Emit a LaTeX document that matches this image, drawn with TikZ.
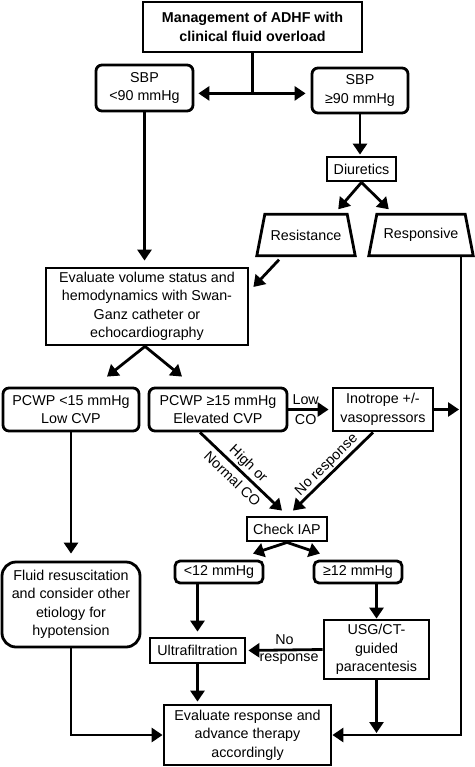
\documentclass[tikz,border=0pt]{standalone}
\usepackage{fontspec}
\setmainfont{Liberation Sans}
\usetikzlibrary{arrows.meta,calc}
\newcommand{\fsn}{\fontsize{14.3}{18.5}\selectfont}
\newcommand{\fsbold}{\fontsize{14.3}{18.5}\selectfont\bfseries}
\begin{document}
\begin{tikzpicture}[x=1pt,y=-1pt,
  box/.style={draw, line width=2.8pt, align=center, inner sep=0pt, font=\fsn},
  rbox/.style={box, rounded corners=6pt},
  trapbox/.style={align=center, inner sep=0pt, font=\fsn},
  arr/.style={line width=2.8pt, -{Triangle[width=14pt,length=11pt]}},
  dbl/.style={line width=2.8pt, {Triangle[width=14pt,length=11pt]}-{Triangle[width=14pt,length=11pt]}},
  ln/.style={line width=2.8pt},
  lab/.style={font=\fsn, inner sep=1pt}]
\useasboundingbox (0,0) rectangle (474,767);
% nodes
\node[box, font=\fsbold, minimum width=219, minimum height=50] (top) at (252.5,27) {Management of ADHF with\\clinical fluid overload};
\node[rbox, minimum width=97, minimum height=46] (sbplo) at (144.5,88) {SBP\\<90 mmHg};
\node[rbox, minimum width=96, minimum height=45] (sbphi) at (360,90.5) {SBP\\≥90 mmHg};
\node[box, minimum width=69, minimum height=24] (diur) at (361.5,169) {Diuretics};
\node[trapbox, minimum width=98, minimum height=41] (resist) at (306,235) {Resistance};
\node[trapbox, minimum width=104, minimum height=41] (respon) at (421,235) {Responsive};
\foreach \t in {resist,respon}
  \draw[ln, line join=miter] (\t.south west) -- (\t.south east) -- ($(\t.north east)+(-8,0)$) -- ($(\t.north west)+(8,0)$) -- cycle;
\node[box, minimum width=202, minimum height=77] (eval) at (147,306.5) {Evaluate volume status and\\hemodynamics with Swan-\\Ganz catheter or\\echocardiography};
\node[rbox, minimum width=136, minimum height=43] (pcwplo) at (71,409.5) {PCWP <15 mmHg\\Low CVP};
\node[rbox, minimum width=138, minimum height=43] (pcwphi) at (218,409.5) {PCWP ≥15 mmHg\\Elevated CVP};
\node[box, minimum width=100, minimum height=43] (inot) at (383,409.5) {Inotrope +/-\\vasopressors};
\node[box, minimum width=80, minimum height=24] (check) at (287,529) {Check IAP};
\node[rbox, rounded corners=5pt, minimum width=88, minimum height=22] (lt12) at (219,572) {<12 mmHg};
\node[rbox, rounded corners=5pt, minimum width=88, minimum height=22] (ge12) at (358,572) {≥12 mmHg};
\node[rbox, rounded corners=14pt, minimum width=138, minimum height=85] (fluid) at (71,604.5) {Fluid resuscitation\\and consider other\\etiology for\\hypotension};
\node[box, minimum width=95, minimum height=25] (ultra) at (197.5,650.5) {Ultrafiltration};
\node[box, minimum width=105, minimum height=59] (usg) at (376.5,649.5) {USG/CT-\\guided\\paracentesis};
\node[box, minimum width=167, minimum height=60] (evresp) at (247.5,735) {Evaluate response and\\advance therapy\\accordingly};
% connectors
\coordinate (split) at ($(top.south)+(0,40)$);
\draw[ln] (top.south) -- (split);
\draw[dbl] ([xshift=4pt]sbplo.east |- split) -- ([xshift=-5pt]sbphi.west |- split);
\draw[arr, shorten >=1pt] (sbphi.south) -- (sbphi.south |- diur.north);
\draw[arr] (diur.south) -- ($(resist.north east)+(-17,-5)$);
\draw[arr] (diur.south) -- ($(respon.north west)+(20,-5)$);
\draw[arr, shorten >=6pt] (sbplo.south) -- (sbplo.south |- eval.north);
\draw[arr] ($(resist.south)+(-27,4)$) -- ($(eval.east)+(4,-19.5)$);
\coordinate (rtop) at ($(respon.south)+(40,0)$);
\draw[arr] (rtop) |- (evresp.east);
\draw[arr] ($(eval.south)+(-2,0)$) -- ($(pcwplo.north)+(36,-10)$);
\draw[arr] ($(eval.south)+(-2,0)$) -- ($(pcwphi.north)+(-36,-10)$);
\draw[arr, shorten >=3pt] (pcwphi.east) -- (inot.west)
  node[lab, pos=0.4, yshift=10pt] {Low}
  node[lab, pos=0.4, yshift=-10pt] {CO};
\draw[arr, shorten >=2pt] (inot.east) -- (inot.east -| rtop);
\draw[arr] ($(pcwphi.south)+(-18,0)$) -- ($(check.north)+(-5,-5)$)
  node[lab, pos=0.5, sloped, above=2pt, inner sep=0pt] {High or}
  node[lab, pos=0.49, sloped, below=4.5pt, inner sep=0pt] {Normal CO};
\draw[arr] ($(inot.south)+(-10,0)$) -- ($(check.north)+(6,-5)$)
  node[lab, pos=0.5, sloped, above=1pt, inner sep=0pt] {No response};
\draw[arr] (check.south) -- ($(lt12.north)+(34,-6)$);
\draw[arr] (check.south) -- ($(ge12.north)+(-38,-6)$);
\draw[arr, shorten >=7pt] (pcwplo.south) -- (pcwplo.south |- fluid.north);
\draw[arr, shorten >=5pt] (ultra.north |- lt12.south) -- (ultra.north);
\draw[arr] (usg.north |- ge12.south) -- (usg.north);
\draw[arr, shorten >=2pt] (usg.west) -- (ultra.east)
  node[lab, pos=0.5, yshift=10pt] {No}
  node[lab, pos=0.44, yshift=-9pt] {response};
\draw[arr, shorten >=2pt] (ultra.south) -- (ultra.south |- evresp.north);
\draw[arr] (fluid.south) |- (evresp.west);
\draw[arr, shorten >=2pt] (usg.south) -- (usg.south |- evresp.east);
\end{tikzpicture}
\end{document}
